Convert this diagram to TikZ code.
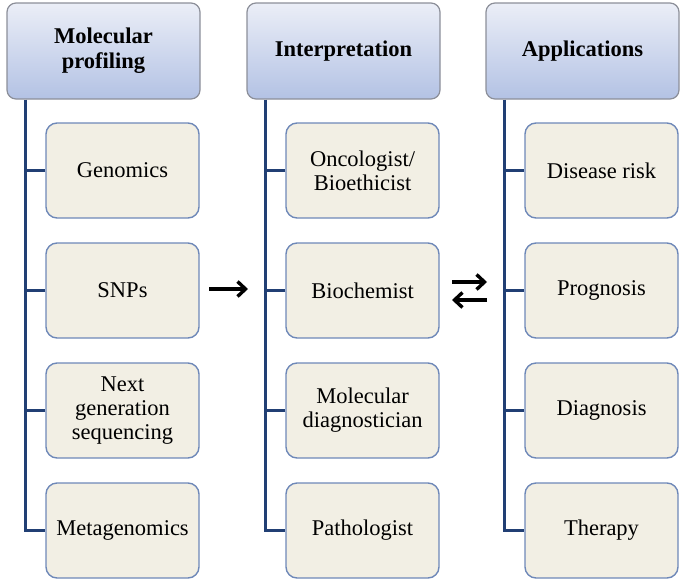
\documentclass[tikz,border=0pt]{standalone}
\usepackage{fontspec}
\setmainfont{Liberation Serif}
\usetikzlibrary{arrows.meta}
\definecolor{hdtop}{HTML}{EBEEF7}
\definecolor{hdbot}{HTML}{B3C2E4}
\definecolor{hdline}{HTML}{8C8F99}
\definecolor{chfill}{HTML}{F2EFE4}
\definecolor{chline}{HTML}{6E88B8}
\definecolor{navy}{HTML}{213F74}
\tikzset{
  hdbox/.style={draw=hdline, line width=1.2pt, rounded corners=9pt, top color=hdtop, bottom color=hdbot,
    minimum width=193pt, minimum height=96pt, align=center, font=\fontsize{22.5}{25}\selectfont\bfseries,
    inner sep=0pt},
  chbox/.style={draw=chline, line width=1.4pt, rounded corners=11pt, fill=chfill,
    minimum width=153pt, minimum height=95pt, align=center, font=\fontsize{22.5}{24}\selectfont,
    inner sep=0pt},
  conn/.style={draw=navy, line width=3pt},
  arr/.style={line width=3.4pt, -{Straight Barb[length=8pt,width=15pt]}}
}
\begin{document}
\begin{tikzpicture}[x=1pt,y=-1pt]
\useasboundingbox (0,0) rectangle (685,581);
% headers
\node[hdbox] (h1) at (103.5,51) {Molecular\\profiling};
\node[hdbox] (h2) at (343.5,51) {Interpretation};
\node[hdbox] (h3) at (582.5,51) {Applications};
% column 1
\node[chbox] (c11) at (122.5,170.5) {Genomics};
\node[chbox] (c12) at (122.5,290.5) {SNPs};
\node[chbox] (c13) at (122.5,410.5) {Next\\generation\\sequencing};
\node[chbox] (c14) at (122.5,530.5) {Metagenomics};
% column 2
\node[chbox] (c21) at (362.5,170.5) {Oncologist/\\Bioethicist};
\node[chbox] (c22) at (362.5,290.5) {Biochemist};
\node[chbox] (c23) at (362.5,410.5) {Molecular\\diagnostician};
\node[chbox] (c24) at (362.5,530.5) {Pathologist};
% column 3
\node[chbox] (c31) at (601.5,170.5) {Disease risk};
\node[chbox] (c32) at (601.5,290.5) {Prognosis};
\node[chbox] (c33) at (601.5,410.5) {Diagnosis};
\node[chbox] (c34) at (601.5,530.5) {Therapy};
% connectors
\coordinate (t1) at ([xshift=19pt]h1.south west);
\coordinate (t2) at ([xshift=19pt]h2.south west);
\coordinate (t3) at ([xshift=19pt]h3.south west);
\draw[conn] (t1) |- (c14.west);
\draw[conn] (t2) |- (c24.west);
\draw[conn] (t3) |- (c34.west);
\foreach \c in {c11,c12,c13,c21,c22,c23,c31,c32,c33}
  \draw[conn] (\c.west) -- ++(-20pt,0);
% arrows
\coordinate (a1s) at (209,289);
\coordinate (a1e) at (248,289);
\draw[arr] (a1s) -- (a1e);
\coordinate (a2s) at (452,282);
\coordinate (a2e) at (487,282);
\draw[arr] (a2s) -- (a2e);
\coordinate (a3s) at (487,300);
\coordinate (a3e) at (452,300);
\draw[arr] (a3s) -- (a3e);
\end{tikzpicture}
\end{document}
